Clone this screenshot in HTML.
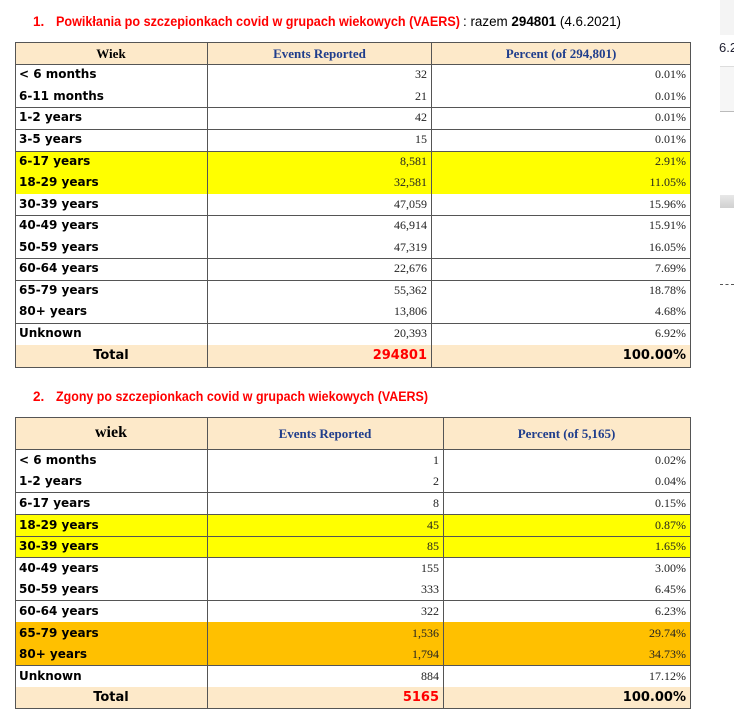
<!DOCTYPE html>
<html><head><meta charset="utf-8">
<style>
body{margin:0;width:734px;height:716px;background:#fff;position:relative;overflow:hidden;font-family:"Liberation Sans",sans-serif}
.a{position:absolute}
.r{position:absolute;left:15px;width:675px}
.bt{border-top:1px solid #555}
.lb{position:absolute;left:4px;font:bold 12px "DejaVu Sans",sans-serif;color:#000;line-height:21px}
.n{position:absolute;font:12px "Liberation Serif",serif;color:#222;text-align:right;line-height:21px}
.h{position:absolute;font:bold 13px "Liberation Serif",serif;color:#1f3d8c;text-align:center}
.tot{position:absolute;font:bold 13px "DejaVu Sans",sans-serif;line-height:21px}
.vl{position:absolute;width:1px;background:#555}
</style></head><body>

<svg class="a" style="left:0;top:0" width="734" height="420">
<text x="33" y="26" font-family="Liberation Sans" font-weight="bold" font-size="13.5" fill="#ff0000">1.</text>
<text x="56" y="26" font-family="Liberation Sans" font-weight="bold" font-size="13.5" fill="#ff0000" textLength="404" lengthAdjust="spacingAndGlyphs">Powikłania po szczepionkach covid w grupach wiekowych (VAERS)</text>
<text x="463" y="26" font-family="Liberation Sans" font-size="13.5" fill="#000" textLength="158" lengthAdjust="spacingAndGlyphs">: razem <tspan font-weight="bold">294801</tspan> (4.6.2021)</text>
<text x="33" y="401" font-family="Liberation Sans" font-weight="bold" font-size="13.5" fill="#ff0000">2.</text>
<text x="56" y="401" font-family="Liberation Sans" font-weight="bold" font-size="13.5" fill="#ff0000" textLength="372" lengthAdjust="spacingAndGlyphs">Zgony po szczepionkach covid w grupach wiekowych (VAERS)</text>
</svg>

<div class="a" style="left:720px;top:0;width:14px;height:35px;background:#f4f4f4"></div>
<div class="a" style="left:719px;top:40px;font:13px 'Liberation Sans',sans-serif;color:#223">6.2</div>
<div class="a" style="left:720px;top:66px;width:14px;height:44px;background:#f6f6f6;border-top:1px solid #ddd;border-bottom:1px solid #bbb"></div>
<div class="a" style="left:720px;top:195px;width:14px;height:13px;background:linear-gradient(#e8e8e8,#d0d0d0)"></div>
<div class="a" style="left:720px;top:284px;width:14px;height:0;border-top:1px dashed #555"></div>

<!-- TABLE 1 -->
<div class="r" style="top:42px;height:22px;background:#fde9c9"></div>
<div class="r" style="top:151px;height:43px;background:#ffff00"></div>
<div class="r" style="top:345px;height:22px;background:#fde9c9"></div>
<div class="a" style="left:15px;top:42px;width:674px;height:324px;border:1px solid #555"></div>
<div class="r bt" style="top:64px"></div>
<div class="r bt" style="top:107px"></div>
<div class="r bt" style="top:129px"></div>
<div class="r bt" style="top:151px"></div>
<div class="r bt" style="top:215px"></div>
<div class="r bt" style="top:258px"></div>
<div class="r bt" style="top:280px"></div>
<div class="r bt" style="top:323px"></div>
<div class="vl" style="left:207px;top:42px;height:325px"></div>
<div class="vl" style="left:431px;top:42px;height:325px"></div>

<div class="h" style="left:15px;width:192px;top:46px;color:#000">Wiek</div>
<div class="h" style="left:207px;width:225px;top:46px">Events Reported</div>
<div class="h" style="left:432px;width:258px;top:46px">Percent (of 294,801)</div>

<div style="position:absolute;left:15px;top:64px;width:675px">
<div class="lb" style="top:0">&lt; 6 months</div>
<div class="lb" style="top:22px">6-11 months</div>
<div class="lb" style="top:43px">1-2 years</div>
<div class="lb" style="top:65px">3-5 years</div>
<div class="lb" style="top:87px">6-17 years</div>
<div class="lb" style="top:108px">18-29 years</div>
<div class="lb" style="top:130px">30-39 years</div>
<div class="lb" style="top:151px">40-49 years</div>
<div class="lb" style="top:173px">50-59 years</div>
<div class="lb" style="top:194px">60-64 years</div>
<div class="lb" style="top:216px">65-79 years</div>
<div class="lb" style="top:237px">80+ years</div>
<div class="lb" style="top:259px">Unknown</div>
</div>
<div style="position:absolute;left:0;top:64px;width:427px">
<div class="n" style="right:0;top:0">32</div>
<div class="n" style="right:0;top:22px">21</div>
<div class="n" style="right:0;top:43px">42</div>
<div class="n" style="right:0;top:65px">15</div>
<div class="n" style="right:0;top:87px">8,581</div>
<div class="n" style="right:0;top:108px">32,581</div>
<div class="n" style="right:0;top:130px">47,059</div>
<div class="n" style="right:0;top:151px">46,914</div>
<div class="n" style="right:0;top:173px">47,319</div>
<div class="n" style="right:0;top:194px">22,676</div>
<div class="n" style="right:0;top:216px">55,362</div>
<div class="n" style="right:0;top:237px">13,806</div>
<div class="n" style="right:0;top:259px">20,393</div>
</div>
<div style="position:absolute;left:0;top:64px;width:686px">
<div class="n" style="right:0;top:0">0.01%</div>
<div class="n" style="right:0;top:22px">0.01%</div>
<div class="n" style="right:0;top:43px">0.01%</div>
<div class="n" style="right:0;top:65px">0.01%</div>
<div class="n" style="right:0;top:87px">2.91%</div>
<div class="n" style="right:0;top:108px">11.05%</div>
<div class="n" style="right:0;top:130px">15.96%</div>
<div class="n" style="right:0;top:151px">15.91%</div>
<div class="n" style="right:0;top:173px">16.05%</div>
<div class="n" style="right:0;top:194px">7.69%</div>
<div class="n" style="right:0;top:216px">18.78%</div>
<div class="n" style="right:0;top:237px">4.68%</div>
<div class="n" style="right:0;top:259px">6.92%</div>
</div>
<div class="tot" style="left:15px;width:192px;text-align:center;top:345px">Total</div>
<div class="tot" style="left:207px;width:220px;text-align:right;top:345px;color:#ff0000">294801</div>
<div class="tot" style="left:432px;width:254px;text-align:right;top:345px">100.00%</div>

<!-- TABLE 2 -->
<div class="r" style="top:417px;height:32px;background:#fde9c9"></div>
<div class="r" style="top:514px;height:43px;background:#ffff00"></div>
<div class="r" style="top:622px;height:43px;background:#ffc000"></div>
<div class="r" style="top:687px;height:21px;background:#fde9c9"></div>
<div class="a" style="left:15px;top:417px;width:674px;height:290px;border:1px solid #555"></div>
<div class="r bt" style="top:449px"></div>
<div class="r bt" style="top:492px"></div>
<div class="r bt" style="top:514px"></div>
<div class="r bt" style="top:536px"></div>
<div class="r bt" style="top:557px"></div>
<div class="r bt" style="top:600px"></div>
<div class="r bt" style="top:665px"></div>
<div class="vl" style="left:207px;top:417px;height:291px"></div>
<div class="vl" style="left:443px;top:417px;height:291px"></div>

<div class="h" style="left:15px;width:192px;top:424px;color:#000;font-size:16px">wiek</div>
<div class="h" style="left:207px;width:236px;top:426px">Events Reported</div>
<div class="h" style="left:443px;width:247px;top:426px">Percent (of 5,165)</div>

<div style="position:absolute;left:15px;top:450px;width:675px">
<div class="lb" style="top:0">&lt; 6 months</div>
<div class="lb" style="top:21px">1-2 years</div>
<div class="lb" style="top:43px">6-17 years</div>
<div class="lb" style="top:65px">18-29 years</div>
<div class="lb" style="top:86px">30-39 years</div>
<div class="lb" style="top:108px">40-49 years</div>
<div class="lb" style="top:129px">50-59 years</div>
<div class="lb" style="top:151px">60-64 years</div>
<div class="lb" style="top:173px">65-79 years</div>
<div class="lb" style="top:194px">80+ years</div>
<div class="lb" style="top:216px">Unknown</div>
</div>
<div style="position:absolute;left:0;top:450px;width:439px">
<div class="n" style="right:0;top:0">1</div>
<div class="n" style="right:0;top:21px">2</div>
<div class="n" style="right:0;top:43px">8</div>
<div class="n" style="right:0;top:65px">45</div>
<div class="n" style="right:0;top:86px">85</div>
<div class="n" style="right:0;top:108px">155</div>
<div class="n" style="right:0;top:129px">333</div>
<div class="n" style="right:0;top:151px">322</div>
<div class="n" style="right:0;top:173px">1,536</div>
<div class="n" style="right:0;top:194px">1,794</div>
<div class="n" style="right:0;top:216px">884</div>
</div>
<div style="position:absolute;left:0;top:450px;width:686px">
<div class="n" style="right:0;top:0">0.02%</div>
<div class="n" style="right:0;top:21px">0.04%</div>
<div class="n" style="right:0;top:43px">0.15%</div>
<div class="n" style="right:0;top:65px">0.87%</div>
<div class="n" style="right:0;top:86px">1.65%</div>
<div class="n" style="right:0;top:108px">3.00%</div>
<div class="n" style="right:0;top:129px">6.45%</div>
<div class="n" style="right:0;top:151px">6.23%</div>
<div class="n" style="right:0;top:173px">29.74%</div>
<div class="n" style="right:0;top:194px">34.73%</div>
<div class="n" style="right:0;top:216px">17.12%</div>
</div>
<div class="tot" style="left:15px;width:192px;text-align:center;top:687px">Total</div>
<div class="tot" style="left:207px;width:232px;text-align:right;top:687px;color:#ff0000">5165</div>
<div class="tot" style="left:443px;width:243px;text-align:right;top:687px">100.00%</div>

</body></html>
